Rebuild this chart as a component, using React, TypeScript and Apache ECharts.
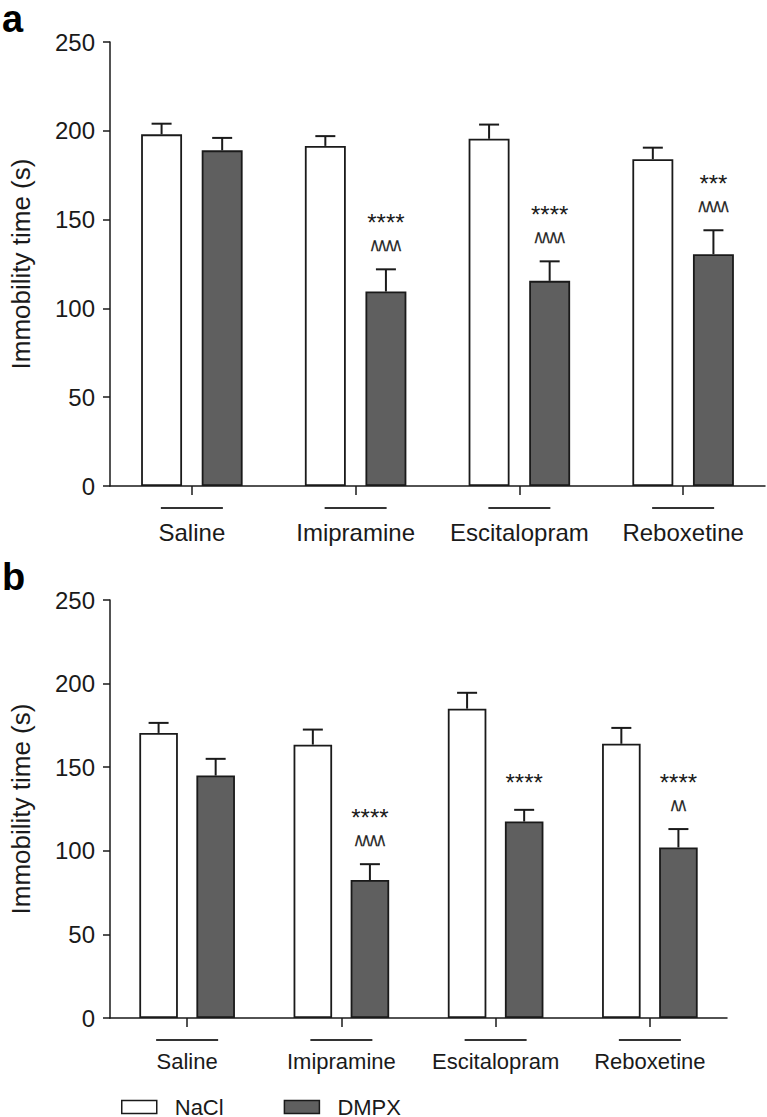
import React, { useEffect, useRef } from "react";
import * as echarts from "echarts";

const categories = ["Saline", "Imipramine", "Escitalopram", "Reboxetine"];
const yTicks = [0, 50, 100, 150, 200, 250];

// Panel a
const aNaCl = [198, 191.5, 195.5, 184];
const aNaClSem = [6, 5.5, 8, 6.5];
const aDMPX = [189, 109.5, 115.5, 130.5];
const aDMPXSem = [7, 12.5, 11, 13.5];
const aStars = ["", "****", "****", "***"];
const aCarets = ["", "^^^^", "^^^^", "^^^^"];

// Panel b
const bNaCl = [170.5, 163.5, 185, 164];
const bNaClSem = [6, 9, 9.5, 9.5];
const bDMPX = [145, 82.5, 117.5, 102];
const bDMPXSem = [10, 9.5, 7, 11];
const bStars = ["", "****", "****", "****"];
const bCarets = ["", "^^^^", "", "^^"];

const FONT = "'Liberation Sans', Arial, Helvetica, sans-serif";
const INK = "#1a1a1a";
const DARK = "#5f5f5f";
const OFF = 0.185;

function makeRender(nacl: number[], naclSem: number[], dmpx: number[], dmpxSem: number[], stars: string[], carets: string[]) {
  return (params: any, api: any) => {
    const i = api.value(0);
    const band = api.size([1, 0])[0];
    const base = api.coord([i, 0]);
    const cx = base[0];
    const children: any[] = [];
    const bars = [
      [nacl[i], naclSem[i], -OFF],
      [dmpx[i], dmpxSem[i], OFF],
    ];
    let dmpxCap = 0;
    let dmpxX = 0;
    bars.forEach(([v, s, o], k) => {
      const x = cx + o * band;
      const top = api.coord([i, v])[1];
      const cap = api.coord([i, v + s])[1];
      if (k === 1) {
        dmpxCap = cap;
        dmpxX = x;
      }
      children.push({
        type: "line",
        shape: { x1: x, y1: top, x2: x, y2: cap },
        style: { stroke: INK, lineWidth: 2 },
      });
      children.push({
        type: "line",
        shape: { x1: x - 10, y1: cap, x2: x + 10, y2: cap },
        style: { stroke: INK, lineWidth: 2 },
      });
    });
    let starY = dmpxCap - 27;
    if (carets[i]) {
      children.push({
        type: "text",
        x: dmpxX,
        y: dmpxCap - 18,
        scaleY: 1.8,
        style: {
          text: carets[i],
          fontSize: 16,
          fontFamily: FONT,
          fill: INK,
          stroke: INK,
          lineWidth: 0.3,
          align: "center",
          verticalAlign: "middle",
        },
      });
      starY = dmpxCap - 47;
    }
    if (stars[i]) {
      children.push({
        type: "text",
        x: dmpxX,
        y: starY,
        style: {
          text: stars[i],
          fontSize: 24,
          fontFamily: FONT,
          fill: INK,
          align: "center",
          verticalAlign: "middle",
        },
      });
    }
    children.push({
      type: "line",
      shape: { x1: cx - 31, y1: base[1] + 22, x2: cx + 31, y2: base[1] + 22 },
      style: { stroke: "#333", lineWidth: 2 },
    });
    return { type: "group", children };
  };
}

function yAxis(gridIndex: number) {
  return {
    type: "value",
    gridIndex,
    min: 0,
    max: 250,
    interval: 50,
    name: "Immobility time (s)",
    nameLocation: "middle",
    nameGap: 76,
    nameTextStyle: { fontSize: 26, fontFamily: FONT, color: INK },
    axisLine: { show: true, lineStyle: { color: INK, width: 1.5 } },
    axisTick: { show: true, length: 7, lineStyle: { color: INK, width: 1.5 } },
    splitLine: { show: false },
    axisLabel: {
      fontSize: 24,
      fontFamily: FONT,
      color: INK,
      margin: 15,
      formatter: (v: number) => (yTicks.includes(v) ? String(v) : ""),
    },
  };
}

function xAxis(gridIndex: number, fontSize: number, margin: number) {
  return {
    type: "category",
    gridIndex,
    data: categories,
    axisLine: { show: true, lineStyle: { color: INK, width: 1.5 } },
    axisTick: { show: true, alignWithLabel: true, length: 9, lineStyle: { color: INK, width: 1.5 } },
    axisLabel: { interval: 0, fontSize, fontFamily: FONT, color: INK, margin },
  };
}

function barSeries(name: string, data: number[], idx: number, color: string) {
  return {
    type: "bar",
    name,
    xAxisIndex: idx,
    yAxisIndex: idx,
    data,
    barWidth: "25%",
    barGap: "48%",
    itemStyle: { color, borderColor: INK, borderWidth: 1.8 },
  };
}

export default function App() {
  const ref = useRef<HTMLDivElement>(null);
  useEffect(() => {
    document.body.style.margin = "0";
    const chart = echarts.init(ref.current!, null, { renderer: "svg" });
    const idx = categories.map((_, i) => [i, 0]);
    chart.setOption({
      animation: false,
      backgroundColor: "#fff",
      textStyle: { fontFamily: FONT },
      grid: [
        { left: 99, top: 42, width: 666, height: 444 },
        { left: 99, top: 600, width: 628, height: 418 },
      ],
      xAxis: [xAxis(0, 24, 34), xAxis(1, 22, 32)],
      yAxis: [yAxis(0), yAxis(1)],
      legend: {
        left: 116,
        top: 1091,
        data: ["NaCl", "DMPX"],
        itemWidth: 35,
        itemHeight: 13,
        itemGap: 60,
        icon: "rect",
        itemStyle: { borderColor: INK, borderWidth: 1.5 },
        textStyle: { fontSize: 22, fontFamily: FONT, color: INK, padding: [0, 0, 0, 13] },
      },
      graphic: [
        { type: "text", left: 2, top: 0, style: { text: "a", fontSize: 38, lineHeight: 28, fontWeight: "bold", fontFamily: FONT, fill: "#000" } },
        { type: "text", left: 2, top: 558, style: { text: "b", fontSize: 38, lineHeight: 28, fontWeight: "bold", fontFamily: FONT, fill: "#000" } },
      ],
      series: [
        barSeries("NaCl", aNaCl, 0, "#ffffff"),
        barSeries("DMPX", aDMPX, 0, DARK),
        {
          type: "custom",
          xAxisIndex: 0,
          yAxisIndex: 0,
          data: idx,
          encode: { x: 0, y: 1 },
          clip: false,
          renderItem: makeRender(aNaCl, aNaClSem, aDMPX, aDMPXSem, aStars, aCarets),
        },
        barSeries("NaCl", bNaCl, 1, "#ffffff"),
        barSeries("DMPX", bDMPX, 1, DARK),
        {
          type: "custom",
          xAxisIndex: 1,
          yAxisIndex: 1,
          data: idx,
          encode: { x: 0, y: 1 },
          clip: false,
          renderItem: makeRender(bNaCl, bNaClSem, bDMPX, bDMPXSem, bStars, bCarets),
        },
      ],
    });
    return () => chart.dispose();
  }, []);
  return <div ref={ref} style={{ width: 767, height: 1117 }} />;
}
